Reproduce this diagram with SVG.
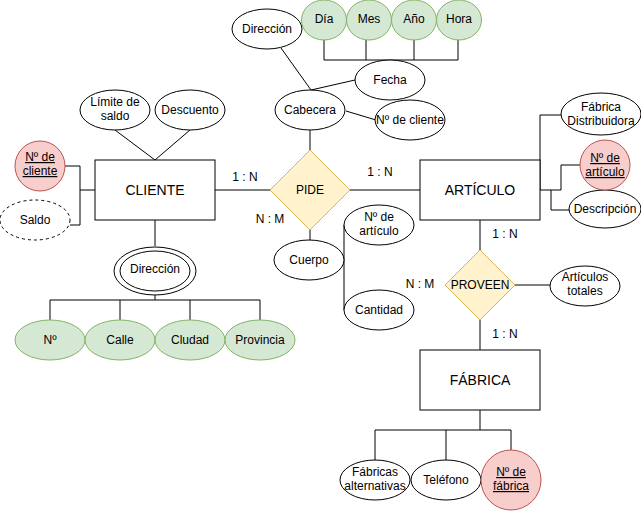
<svg xmlns="http://www.w3.org/2000/svg" width="641" height="511" viewBox="0 0 641 511">
<style>
text{font-family:"Liberation Sans",Arial,sans-serif;font-size:12px;fill:#000;text-anchor:middle}
.big{font-size:14px}
.ent{fill:#fff;stroke:#000;stroke-width:1}
.att{fill:#fff;stroke:#000;stroke-width:1}
.dash{fill:#fff;stroke:#000;stroke-width:1;stroke-dasharray:3 3}
.grn{fill:#d5e8d4;stroke:#82b366;stroke-width:1}
.key{fill:#f8cecc;stroke:#b85450;stroke-width:1}
.rel{fill:#fff2cc;stroke:#d6b656;stroke-width:1}
.u{text-decoration:underline}
#connectors path{fill:none;stroke:#000;stroke-width:1}
</style>
<rect width="641" height="511" fill="#fff"/>
<g id="connectors">
<path d="M65,166H80V225H70M80,190H95"/>
<path d="M115,130L155,160M190,130L155,160"/>
<path d="M215,190H270M350,190H420"/>
<path d="M310,130V150M281,48L311,90M355,80L311,90M346,111L376,120"/>
<path d="M324,40V60M366,40V60M414,40V60M458,40V60M324,60H458"/>
<path d="M310,230V240M344,225V310"/>
<path d="M155,220V246M155,295V300M50,300H260M50,300V320M120,300V320M190,300V320M260,300V320"/>
<path d="M540,190V115H561M580,165H561V190H540M551,190V210H570"/>
<path d="M480,220V250M480,320V350M515,285H550"/>
<path d="M480,410V430M375,430H511M375,430V460M446,430V460M511,430V450"/>
</g>
<g id="cliente"><rect class="ent" x="95" y="160" width="120" height="60"/><text class="big" x="155" y="195">CLIENTE</text></g>
<g id="n_cliente"><circle class="key" cx="40" cy="166" r="25"/><text class="u" x="40" y="161">Nº de</text><text class="u" x="40" y="175">cliente</text></g>
<g id="saldo"><ellipse class="dash" cx="35" cy="220" rx="35" ry="20"/><text x="35" y="224">Saldo</text></g>
<g id="limite"><ellipse class="att" cx="115" cy="110" rx="35" ry="20"/><text x="115" y="106">Límite de</text><text x="115" y="120">saldo</text></g>
<g id="descuento"><ellipse class="att" cx="190" cy="110" rx="35" ry="20"/><text x="190" y="114">Descuento</text></g>
<g id="direccion_c"><ellipse class="att" cx="155" cy="271" rx="41" ry="24"/><ellipse class="att" cx="155" cy="271" rx="35" ry="20"/><text x="155" y="273">Dirección</text></g>
<g id="num"><ellipse class="grn" cx="50" cy="340" rx="35" ry="20"/><text x="50" y="344">Nº</text></g>
<g id="calle"><ellipse class="grn" cx="120" cy="340" rx="35" ry="20"/><text x="120" y="344">Calle</text></g>
<g id="ciudad"><ellipse class="grn" cx="190" cy="340" rx="35" ry="20"/><text x="190" y="344">Cludad</text></g>
<g id="provincia"><ellipse class="grn" cx="260" cy="340" rx="35" ry="20"/><text x="260" y="344">Provincia</text></g>
<g id="pide"><path class="rel" d="M310,150L350,190L310,230L270,190Z"/><text x="310" y="194">PIDE</text></g>
<g id="lbl1"><text x="245" y="181">1 : N</text><text x="380" y="176">1 : N</text><text x="270" y="223">N : M</text><text x="420" y="288">N : M</text><text x="505" y="238">1 : N</text><text x="505" y="338">1 : N</text></g>
<g id="cabecera"><ellipse class="att" cx="310" cy="110" rx="35" ry="20"/><text x="310" y="114">Cabecera</text></g>
<g id="direccion"><ellipse class="att" cx="267" cy="29" rx="35" ry="20"/><text x="267" y="33">Dirección</text></g>
<g id="fecha"><ellipse class="att" cx="390" cy="80" rx="35" ry="20"/><text x="390" y="84">Fecha</text></g>
<g id="dia"><ellipse class="grn" cx="324" cy="20" rx="22.5" ry="20"/><text x="324" y="23">Día</text></g>
<g id="mes"><ellipse class="grn" cx="369" cy="20" rx="22.5" ry="20"/><text x="369" y="23">Mes</text></g>
<g id="anio"><ellipse class="grn" cx="414" cy="20" rx="22.5" ry="20"/><text x="414" y="23">Año</text></g>
<g id="hora"><ellipse class="grn" cx="459" cy="20" rx="22.5" ry="20"/><text x="459" y="23">Hora</text></g>
<g id="n_cliente2"><ellipse class="att" cx="410" cy="120" rx="35" ry="20"/><text x="410" y="124">Nº de cliente</text></g>
<g id="cuerpo"><ellipse class="att" cx="309" cy="260" rx="35" ry="20"/><text x="309" y="264">Cuerpo</text></g>
<g id="n_articulo"><ellipse class="att" cx="379" cy="225" rx="35" ry="20"/><text x="379" y="221">Nº de</text><text x="379" y="235">artículo</text></g>
<g id="cantidad"><ellipse class="att" cx="379" cy="310" rx="35" ry="20"/><text x="379" y="314">Cantidad</text></g>
<g id="articulo"><rect class="ent" x="420" y="160" width="120" height="60"/><text class="big" x="480" y="195">ARTÍCULO</text></g>
<g id="fab_dist"><ellipse class="att" cx="601" cy="114" rx="40" ry="21"/><text x="601" y="111">Fábrica</text><text x="601" y="125">Distribuidora</text></g>
<g id="descripcion"><ellipse class="att" cx="605" cy="209" rx="36" ry="19"/><text x="605" y="213">Descripción</text></g>
<g id="n_articulo_k"><circle class="key" cx="605" cy="165" r="25"/><text class="u" x="605" y="162">Nº de</text><text class="u" x="605" y="176">artículo</text></g>
<g id="proveen"><path class="rel" d="M480,250L515,285L480,320L445,285Z"/><text x="480" y="289">PROVEEN</text></g>
<g id="art_totales"><ellipse class="att" cx="585" cy="286" rx="35" ry="20"/><text x="585" y="281">Artículos</text><text x="585" y="295">totales</text></g>
<g id="fabrica"><rect class="ent" x="420" y="350" width="120" height="60"/><text class="big" x="480" y="385">FÁBRICA</text></g>
<g id="fab_alt"><ellipse class="att" cx="375" cy="480" rx="35" ry="20"/><text x="375" y="476">Fábricas</text><text x="375" y="490">alternativas</text></g>
<g id="telefono"><ellipse class="att" cx="446" cy="480" rx="35" ry="20"/><text x="446" y="484">Teléfono</text></g>
<g id="n_fabrica"><circle class="key" cx="511" cy="480" r="30"/><text class="u" x="511" y="476">Nº de</text><text class="u" x="511" y="490">fábrica</text></g>
</svg>
